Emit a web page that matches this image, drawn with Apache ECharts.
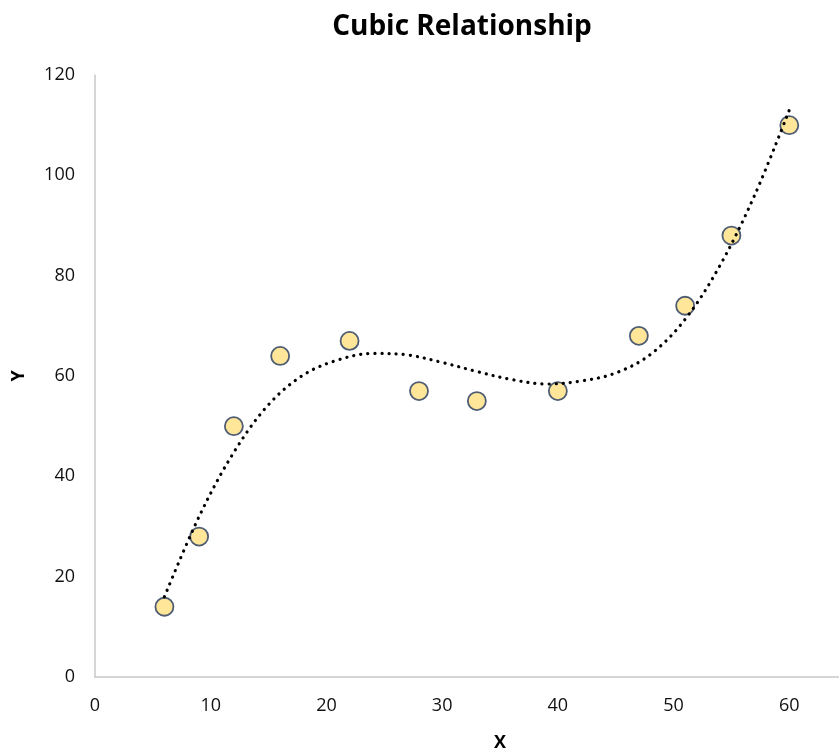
<!DOCTYPE html>
<html>
<head>
<meta charset="utf-8">
<script src="https://cdn.jsdelivr.net/npm/echarts@6/dist/echarts.min.js"></script>
<style>html,body{margin:0;padding:0;background:#fff;}#c{width:839px;height:753px;}</style>
</head>
<body>
<div id="c"></div>
<script>
var titleText = 'Cubic Relationship';
var xName = 'X';
var yName = 'Y';
var xValues = [6, 9, 12, 16, 22, 28, 33, 40, 47, 51, 55, 60];
var yValues = [14, 28, 50, 64, 67, 57, 55, 57, 68, 74, 88, 110];
// trendline points
var trendX = [6, 9, 12, 15, 18, 21, 24, 27, 30, 33, 36, 39, 42, 45, 48, 51, 54, 57, 60];
var trendY = [16, 32, 44.8, 54.3, 60.2, 63.2, 64.5, 64.2, 62.7, 60.9, 59.3, 58.4, 59, 60.6, 64.3, 71.3, 82, 96, 113];
var xMin = 0, xMax = 70, xStep = 10;
var yMin = 0, yMax = 120, yStep = 20;

var chart = echarts.init(document.getElementById('c'), null, {renderer: 'canvas'});
var font = "'Open Sans', 'Noto Sans', sans-serif";
chart.setOption({
  animation: false,
  backgroundColor: '#ffffff',
  title: {
    text: titleText,
    left: 457,
    top: 8,
    textAlign: 'center',
    textStyle: {fontFamily: font, fontWeight: 'bold', fontSize: 28, color: '#000'}
  },
  grid: {left: 95, top: 75, width: 810, height: 602, containLabel: false, outerBoundsMode: 'none'},
  xAxis: {
    type: 'value', min: xMin, max: xMax, interval: xStep,
    name: xName, nameLocation: 'middle', nameGap: 57,
    nameTextStyle: {fontFamily: font, fontWeight: 'bold', fontSize: 18, color: '#000'},
    axisLine: {show: true, lineStyle: {color: '#c8c8c8', width: 1.5}},
    axisTick: {show: false},
    splitLine: {show: false},
    axisLabel: {fontFamily: font, fontSize: 18, color: '#111', margin: 20}
  },
  yAxis: {
    type: 'value', min: yMin, max: yMax, interval: yStep,
    name: yName, nameLocation: 'middle', nameGap: 67, nameRotate: 90,
    nameTextStyle: {fontFamily: font, fontWeight: 'bold', fontSize: 18, color: '#000'},
    axisLine: {show: true, lineStyle: {color: '#c8c8c8', width: 1.5}},
    axisTick: {show: false},
    splitLine: {show: false},
    axisLabel: {fontFamily: font, fontSize: 18, color: '#111', margin: 20}
  },
  series: [
    {
      type: 'line',
      data: trendX.map(function (x, i) { return [x, trendY[i]]; }),
      smooth: 0.35,
      showSymbol: false,
      symbol: 'none',
      lineStyle: {color: '#000', width: 3.2, type: [0.1, 7], cap: 'round'},
      z: 3
    },
    {
      type: 'scatter',
      data: xValues.map(function (x, i) { return [x, yValues[i]]; }),
      symbol: 'circle',
      symbolSize: 18,
      itemStyle: {color: '#FFE699', borderColor: '#4F5D73', borderWidth: 1.8, opacity: 1},
      z: 2
    }
  ]
});
</script>
</body>
</html>
